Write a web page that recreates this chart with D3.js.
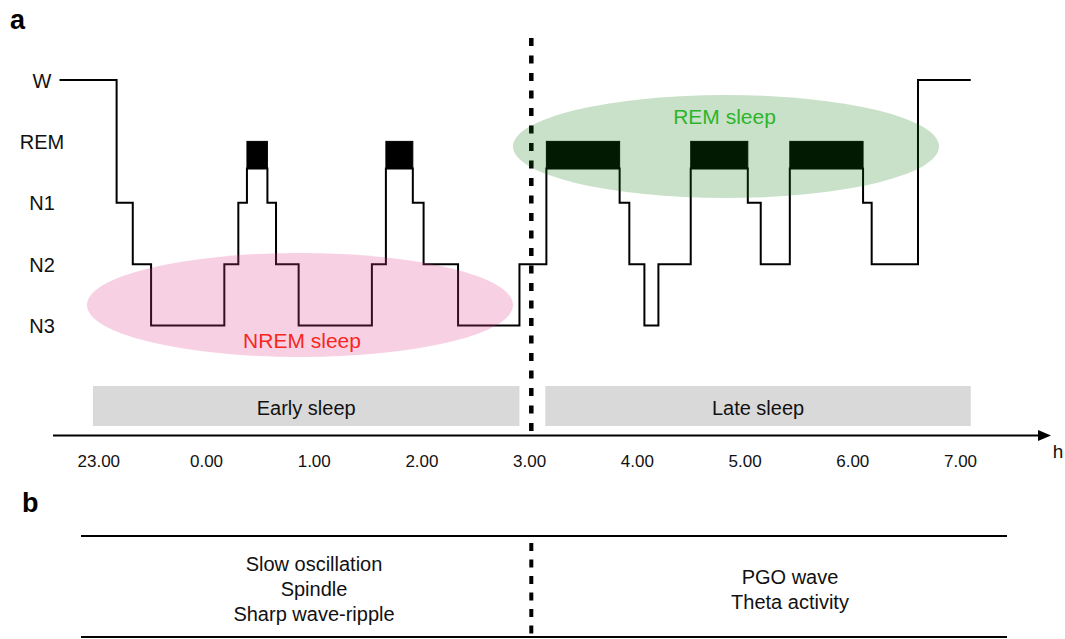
<!DOCTYPE html>
<html>
<head>
<meta charset="utf-8">
<script src="https://cdn.jsdelivr.net/npm/d3@7/dist/d3.min.js"></script>
<style>
  html, body { margin: 0; padding: 0; background: #fff; }
  svg { display: block; font-family: "Liberation Sans", Arial, Helvetica, sans-serif; }
</style>
</head>
<body>
<svg id="chart" width="1065" height="639"></svg>
<script>
// ---------------- DATA ----------------
// hours elapsed since 23.00
const stages = ["W", "REM", "N1", "N2", "N3"];
const stageStart = [-0.36, 0.17, 0.32, 0.49, 1.17, 1.30, 1.38, 1.57, 1.65, 1.86,
                    2.54, 2.67, 2.92, 3.02, 3.34, 3.91, 4.16, 4.84, 4.93, 5.07,
                    5.20, 5.50, 6.03, 6.15, 6.42, 7.10, 7.18, 7.61];
const stageSeq = ["W", "N1", "N2", "N3", "N2", "N1", "REM", "N1", "N2", "N3",
                  "N2", "REM", "N1", "N2", "N3", "N2", "REM", "N1", "N2", "N3",
                  "N2", "REM", "N1", "N2", "REM", "N1", "N2", "W"];
const recordEnd = 8.10;
const tickHours = [0, 1, 2, 3, 4, 5, 6, 7, 8];
const tickLabels = ["23.00", "0.00", "1.00", "2.00", "3.00", "4.00", "5.00", "6.00", "7.00"];
const phaseLabels = ["Early sleep", "Late sleep"];
const phaseStart = [-0.05, 4.15];
const phaseEnd = [3.91, 8.10];
const dividerHour = 4.02;
const regionLabels = ["NREM sleep", "REM sleep"];
const regionStart = [-0.105, 3.85];
const regionEnd = [3.85, 7.805];
const earlyFeatures = ["Slow oscillation", "Spindle", "Sharp wave-ripple"];
const lateFeatures = ["PGO wave", "Theta activity"];

// ---------------- LAYOUT ----------------
const svg = d3.select("#chart");
const x = d3.scaleLinear().domain([0, 8]).range([98.3, 960]);
const y = d3.scalePoint().domain(stages).range([80, 325.5]);
const remH = 27;
const levelY = s => s === "REM" ? y(s) + remH : y(s);

// panel label a
svg.append("text").attr("x", 10).attr("y", 29).attr("font-size", 27)
  .attr("font-weight", "bold").text("a");

// stage labels
svg.append("g").selectAll("text").data(stages).join("text")
  .attr("x", 42).attr("y", d => y(d) + 7.5)
  .attr("text-anchor", "middle").attr("font-size", 20).attr("fill", "#111")
  .text(d => d);

// divider (drawn under ellipses)
svg.append("line")
  .attr("x1", x(dividerHour)).attr("x2", x(dividerHour))
  .attr("y1", 38).attr("y2", 431)
  .attr("stroke", "#000").attr("stroke-width", 4.5)
  .attr("stroke-dasharray", "8,9.5");

// hypnogram
const pts = stageStart.map((t, i) => [t, stageSeq[i]]);
pts.push([recordEnd, stageSeq[stageSeq.length - 1]]);
const line = d3.line().x(d => x(d[0])).y(d => levelY(d[1])).curve(d3.curveStepAfter);

const remIdx = stageSeq.map((s, i) => i).filter(i => stageSeq[i] === "REM");
svg.append("g").selectAll("rect").data(remIdx).join("rect")
  .attr("x", i => x(stageStart[i]))
  .attr("width", i => x(stageStart[i + 1]) - x(stageStart[i]))
  .attr("y", y("REM")).attr("height", remH)
  .attr("fill", "#000").attr("stroke", "#000").attr("stroke-width", 1);

svg.append("path").datum(pts).attr("d", line)
  .attr("fill", "none").attr("stroke", "#000").attr("stroke-width", 2);

// region ellipses (translucent, on top)
const ellFill = ["rgb(220,60,140)", "rgb(10,116,10)"];
const ellOpacity = [0.24, 0.22];
const ellCy = [305, 146.5];
const ellRy = [52, 51.5];
svg.append("g").selectAll("ellipse").data(regionLabels).join("ellipse")
  .attr("cx", (d, i) => (x(regionStart[i]) + x(regionEnd[i])) / 2)
  .attr("rx", (d, i) => (x(regionEnd[i]) - x(regionStart[i])) / 2)
  .attr("cy", (d, i) => ellCy[i]).attr("ry", (d, i) => ellRy[i])
  .attr("fill", (d, i) => ellFill[i]).attr("fill-opacity", (d, i) => ellOpacity[i]);

const labColor = ["#f5281e", "#2db52a"];
const labX = [302, 724.5];
const labY = [348, 124];
svg.append("g").selectAll("text").data(regionLabels).join("text")
  .attr("x", (d, i) => labX[i]).attr("y", (d, i) => labY[i])
  .attr("text-anchor", "middle").attr("font-size", 21)
  .attr("fill", (d, i) => labColor[i]).text(d => d);

// phase bars
const pg = svg.append("g").selectAll("g").data(phaseLabels).join("g");
pg.append("rect")
  .attr("x", (d, i) => x(phaseStart[i]))
  .attr("width", (d, i) => x(phaseEnd[i]) - x(phaseStart[i]))
  .attr("y", 386).attr("height", 40).attr("fill", "#d9d9d9");
pg.append("text")
  .attr("x", (d, i) => (x(phaseStart[i]) + x(phaseEnd[i])) / 2)
  .attr("y", 415).attr("text-anchor", "middle").attr("font-size", 20)
  .attr("fill", "#111").text(d => d);

// time axis
const axisY = 435.5;
svg.append("line").attr("x1", 53).attr("x2", 1040).attr("y1", axisY).attr("y2", axisY)
  .attr("stroke", "#000").attr("stroke-width", 2);
svg.append("path").attr("d", `M1038,${axisY - 5.5}L1051,${axisY}L1038,${axisY + 5.5}Z`)
  .attr("fill", "#000");
const axis = d3.axisBottom(x).tickValues(tickHours)
  .tickFormat((d, i) => tickLabels[i]).tickSize(0).tickPadding(0);
const ag = svg.append("g").attr("transform", `translate(0,${axisY})`).call(axis);
ag.select(".domain").remove();
ag.selectAll("text").attr("font-size", 17).attr("fill", "#111")
  .attr("font-family", "'Liberation Sans', Arial, sans-serif")
  .attr("dy", 0).attr("y", 31);
svg.append("text").attr("x", 1058).attr("y", 458).attr("text-anchor", "middle")
  .attr("font-size", 19).attr("fill", "#111").text("h");

// ---------------- PANEL b ----------------
svg.append("text").attr("x", 22).attr("y", 512).attr("font-size", 27)
  .attr("font-weight", "bold").text("b");
[536, 637].forEach(yy => {
  svg.append("line").attr("x1", 81).attr("x2", 1007).attr("y1", yy).attr("y2", yy)
    .attr("stroke", "#000").attr("stroke-width", 2);
});
svg.append("line").attr("x1", x(dividerHour)).attr("x2", x(dividerHour))
  .attr("y1", 543).attr("y2", 639)
  .attr("stroke", "#000").attr("stroke-width", 4)
  .attr("stroke-dasharray", "8,8.5");

svg.append("g").selectAll("text").data(earlyFeatures).join("text")
  .attr("x", 314).attr("y", (d, i) => 571 + i * 25)
  .attr("text-anchor", "middle").attr("font-size", 20).attr("fill", "#111").text(d => d);
svg.append("g").selectAll("text").data(lateFeatures).join("text")
  .attr("x", 790).attr("y", (d, i) => 584 + i * 25)
  .attr("text-anchor", "middle").attr("font-size", 20).attr("fill", "#111").text(d => d);
</script>
</body>
</html>
